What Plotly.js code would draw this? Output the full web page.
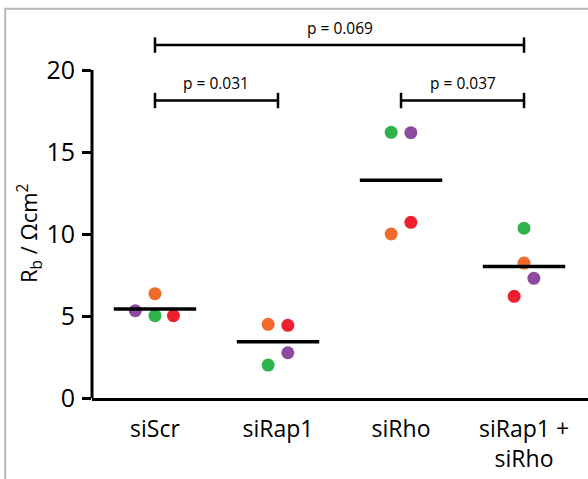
<!DOCTYPE html>
<html>
<head>
<meta charset="utf-8">
<script src="https://cdn.plot.ly/plotly-3.0.1.min.js"></script>
<style>html,body{margin:0;padding:0;background:#fff;}#chart{width:588px;height:479px;}</style>
</head>
<body>
<div id="chart"></div>
<script>
// ---- data ----
const categories = ['siScr', 'siRap1', 'siRho', 'siRap1 +<br>siRho'];
const greenVals  = [5.02, 2.01, 16.2, 10.35];
const purpleVals = [5.32, 2.76, 16.18, 7.3];
const orangeVals = [6.36, 4.49, 10.0, 8.23];
const redVals    = [5.02, 4.43, 10.71, 6.2];
const comparisons = [[0, 3, 'p = 0.069'], [0, 1, 'p = 0.031'], [2, 3, 'p = 0.037']];
const yTicks = [0, 5, 10, 15, 20];

// ---- layout / styling (positions) ----
const greenOff  = [0, -0.08, -0.08, 0];
const purpleOff = [-0.16, 0.08, 0.08, 0.08];
const orangeOff = [0, -0.08, -0.08, 0];
const redOff    = [0.15, 0.08, 0.08, -0.08];
const bracketY = [21.52, 18.14, 18.14];
const labelY   = [22.56, 19.2, 19.2];
const font = 'Open Sans, sans-serif';

const idx = categories.map((c, i) => i);
function series(vals, off, color) {
  return {
    type: 'scatter', mode: 'markers',
    x: idx.map(i => i + off[i]), y: vals,
    marker: {color: color, size: 13, line: {width: 0}},
    hoverinfo: 'skip', showlegend: false, cliponaxis: false
  };
}
const traces = [
  series(purpleVals, purpleOff, '#8e4a9e'),
  series(greenVals, greenOff, '#2db34a'),
  series(orangeVals, orangeOff, '#f26a2a'),
  series(redVals, redOff, '#ee2030')
];
// mean lines
idx.forEach(i => {
  const m = (greenVals[i] + purpleVals[i] + orangeVals[i] + redVals[i]) / 4;
  traces.push({type: 'scatter', mode: 'lines', x: [i - 0.335, i + 0.335], y: [m, m],
    line: {color: '#000', width: 3.5}, hoverinfo: 'skip', showlegend: false});
});

const shapes = [
  // y axis line 0..20
  {type: 'line', xref: 'paper', yref: 'y', x0: 0, x1: 0, y0: 0, y1: 20, line: {color: '#000', width: 3}},
  // grey frame
  {type: 'path', xref: 'paper', yref: 'paper', path: 'M -0.175 -0.21 L -0.175 0.978 L 1.01 0.978', line: {color: '#b8b8b8', width: 2}}
];
const annotations = [];
comparisons.forEach((c, k) => {
  const y = bracketY[k];
  shapes.push({type: 'line', xref: 'x', yref: 'y', x0: c[0], x1: c[1], y0: y, y1: y, line: {color: '#000', width: 2.5}});
  shapes.push({type: 'line', xref: 'x', yref: 'y', x0: c[0], x1: c[0], y0: y - 0.47, y1: y + 0.47, line: {color: '#000', width: 2.5}});
  shapes.push({type: 'line', xref: 'x', yref: 'y', x0: c[1], x1: c[1], y0: y - 0.47, y1: y + 0.47, line: {color: '#000', width: 2.5}});
  annotations.push({xref: 'x', yref: 'y', x: (c[0] + c[1]) / 2, y: labelY[k], text: c[2], showarrow: false,
    font: {family: font, size: 15.5, color: '#000'}, yanchor: 'middle'});
});
annotations.push({xref: 'paper', yref: 'y', x: -0.127, y: 10, text: 'R<sub>b</sub> / Ωcm<sup>2</sup>', textangle: -90,
  showarrow: false, font: {family: font, size: 22, color: '#000'}, xanchor: 'center', yanchor: 'middle'});

const layout = {
  width: 588, height: 479,
  margin: {l: 92, r: 0, t: 0, b: 81, pad: 0},
  paper_bgcolor: '#fff', plot_bgcolor: '#fff',
  showlegend: false,
  xaxis: {range: [-0.512, 3.52], showline: true, linewidth: 3, linecolor: '#000', ticks: '',
    tickmode: 'array', tickvals: idx, ticktext: categories, showgrid: false, zeroline: false,
    tickfont: {family: font, size: 23, color: '#000'}, ticklabelstandoff: 8, fixedrange: true},
  yaxis: {range: [0, 24.27], showline: false, ticks: 'outside', ticklen: 9, tickwidth: 3, tickcolor: '#000',
    tickmode: 'array', tickvals: yTicks, ticktext: yTicks.map(String), showgrid: false, zeroline: false,
    tickfont: {family: font, size: 25, color: '#000'}, ticklabelstandoff: 2, fixedrange: true},
  shapes: shapes,
  annotations: annotations
};
Plotly.newPlot('chart', traces, layout, {displayModeBar: false, staticPlot: true});
</script>
</body>
</html>
